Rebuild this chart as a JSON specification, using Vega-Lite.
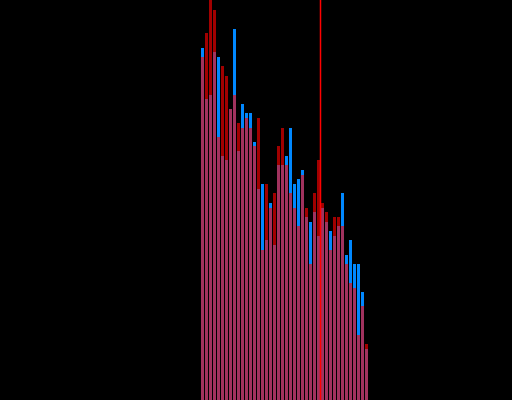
{
  "$schema": "https://vega.github.io/schema/vega-lite/v6.json",
  "width": 512,
  "height": 400,
  "padding": 0,
  "autosize": {"type": "none"},
  "background": "#000000",
  "config": {"view": {"stroke": null}},
  "datasets": {
    "bars": [
      {"i": 0, "blue": 352, "red": 343},
      {"i": 1, "blue": 301, "red": 367},
      {"i": 2, "blue": 305, "red": 400},
      {"i": 3, "blue": 348, "red": 390},
      {"i": 4, "blue": 343, "red": 263},
      {"i": 5, "blue": 244, "red": 334},
      {"i": 6, "blue": 240, "red": 324},
      {"i": 7, "blue": 291, "red": 291},
      {"i": 8, "blue": 371, "red": 305},
      {"i": 9, "blue": 249, "red": 277},
      {"i": 10, "blue": 296, "red": 272},
      {"i": 11, "blue": 287, "red": 282},
      {"i": 12, "blue": 287, "red": 272},
      {"i": 13, "blue": 258, "red": 254},
      {"i": 14, "blue": 211, "red": 282},
      {"i": 15, "blue": 216, "red": 150},
      {"i": 16, "blue": 160, "red": 216},
      {"i": 17, "blue": 197, "red": 192},
      {"i": 18, "blue": 155, "red": 207},
      {"i": 19, "blue": 235, "red": 254},
      {"i": 20, "blue": 235, "red": 272},
      {"i": 21, "blue": 244, "red": 235},
      {"i": 22, "blue": 272, "red": 207},
      {"i": 23, "blue": 216, "red": 192},
      {"i": 24, "blue": 221, "red": 174},
      {"i": 25, "blue": 230, "red": 225},
      {"i": 26, "blue": 183, "red": 192},
      {"i": 27, "blue": 178, "red": 136},
      {"i": 28, "blue": 188, "red": 207},
      {"i": 29, "blue": 164, "red": 240},
      {"i": 30, "blue": 192, "red": 197},
      {"i": 31, "blue": 178, "red": 188},
      {"i": 32, "blue": 169, "red": 150},
      {"i": 33, "blue": 164, "red": 183},
      {"i": 34, "blue": 174, "red": 183},
      {"i": 35, "blue": 207, "red": 174},
      {"i": 36, "blue": 145, "red": 136},
      {"i": 37, "blue": 160, "red": 117},
      {"i": 38, "blue": 136, "red": 112},
      {"i": 39, "blue": 136, "red": 65},
      {"i": 40, "blue": 108, "red": 94},
      {"i": 41, "blue": 51, "red": 56}
    ],
    "marker": [{"x": 29.875}]
  },
  "layer": [
    {
      "data": {"name": "bars"},
      "transform": [{"calculate": "datum.i + 0.75", "as": "i2"}],
      "mark": {"type": "bar", "color": "#0088ff", "clip": true},
      "encoding": {
        "x": {"field": "i", "type": "quantitative", "scale": {"domain": [-50.25, 77.75], "nice": false, "zero": false}, "axis": null},
        "x2": {"field": "i2"},
        "y": {"field": "blue", "type": "quantitative", "scale": {"domain": [0, 400], "nice": false}, "axis": null},
        "y2": {"datum": 0}
      }
    },
    {
      "data": {"name": "bars"},
      "transform": [{"calculate": "datum.i + 0.75", "as": "i2"}],
      "mark": {"type": "bar", "color": "#ff0000", "opacity": 0.63, "clip": true},
      "encoding": {
        "x": {"field": "i", "type": "quantitative", "axis": null},
        "x2": {"field": "i2"},
        "y": {"field": "red", "type": "quantitative", "axis": null},
        "y2": {"datum": 0}
      }
    },
    {
      "data": {"name": "marker"},
      "mark": {"type": "rule", "color": "#ff0000", "strokeWidth": 1.5},
      "encoding": {
        "x": {"field": "x", "type": "quantitative", "axis": null}
      }
    }
  ]
}
